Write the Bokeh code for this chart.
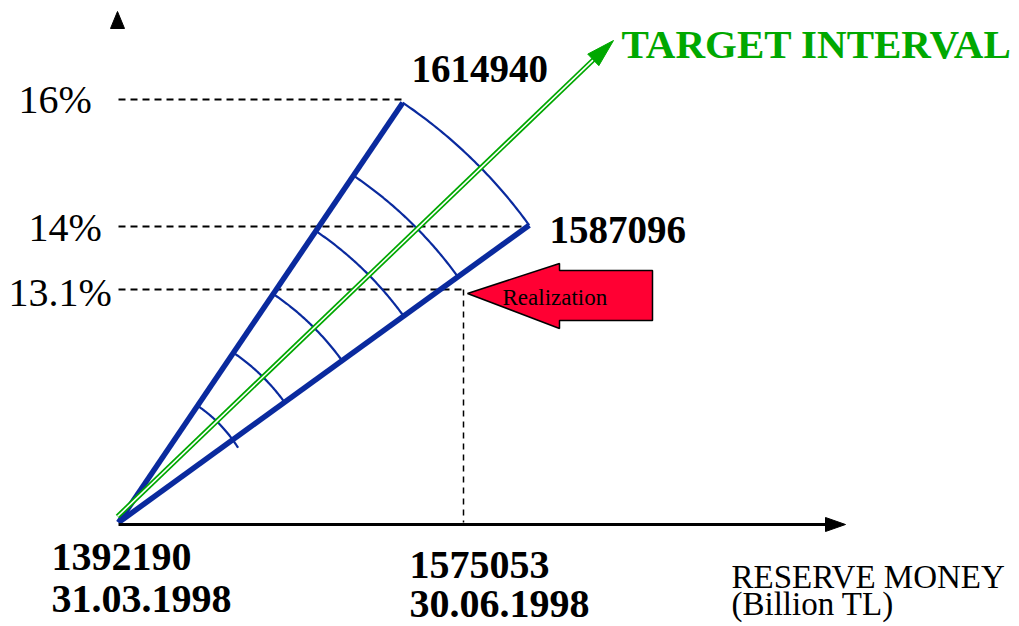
import numpy as np
from bokeh.plotting import figure
from bokeh.models import Range1d
from bokeh.embed import file_html
from bokeh.resources import INLINE
from bokeh.core.properties import value

# ---------------- data ----------------
growth_labels = ["16%", "14%", "13.1%"]
bound_values = ["1614940", "1587096"]          # upper / lower target
base_value = "1392190"
base_date = "31.03.1998"
realized_value = "1575053"
realized_date = "30.06.1998"
title_text = "TARGET INTERVAL"
x_title = ["RESERVE MONEY", "(Billion TL)"]
arrow_text = "Realization"

# ---------------- schematic layout (page pixels) ----------------
ORIGIN = (118, 522)
R_OUT = 507
ANG_UP, ANG_LO = 55.9, 35.9                  # degrees, y-up
ARC_R = [141, 205, 276, 352, 419, 507]
ARC_END = [32.0, 35.9, 35.9, 35.9, 35.9, 35.9]
PCT_Y = [99, 226, 289]
PCT_X_END = [402, 525, 463]
PCT_LABEL_X = [18, 28, 8]
PCT_LABEL_Y = [113, 241, 306]
REAL_X = 463

BLUE = "#0A2A9E"
GREEN = "#00A800"
RED = "#FF0033"
SERIF = value("Liberation Serif")


def pt(r, a):
    t = np.radians(a)
    return ORIGIN[0] + r * np.cos(t), ORIGIN[1] - r * np.sin(t)


def mid(baselines, fs):
    # convert a baseline position into the em-box middle used by text_baseline="middle"
    return [b - 0.34 * fs for b in baselines]


p = figure(width=1019, height=626, x_range=Range1d(0, 1019), y_range=Range1d(626, 0),
           x_axis_location=None, y_axis_location=None, toolbar_location=None,
           output_backend="svg", min_border=0)
p.grid.visible = False
p.outline_line_color = None
p.background_fill_color = "white"

# dashed guide lines
p.segment(x0=[ORIGIN[0]] * 3, y0=PCT_Y, x1=PCT_X_END, y1=PCT_Y,
          line_color="black", line_width=2, line_dash="7 5")
p.segment(x0=[REAL_X], y0=[PCT_Y[2]], x1=[REAL_X], y1=[ORIGIN[1]],
          line_color="black", line_width=1.5, line_dash="6 5")

# arcs
xs, ys = [], []
for r, e in zip(ARC_R, ARC_END):
    a = np.linspace(ANG_UP, e, 60)
    x, y = pt(r, a)
    xs.append(list(x)); ys.append(list(y))
p.multi_line(xs=xs, ys=ys, line_color=BLUE, line_width=2.2)

# bounding blue lines
ux, uy = pt(R_OUT, ANG_UP)
lx, ly = pt(R_OUT, ANG_LO)
p.multi_line(xs=[[ORIGIN[0], ux], [ORIGIN[0], lx]], ys=[[ORIGIN[1], uy], [ORIGIN[1], ly]],
             line_color=BLUE, line_width=5.5)

# green target line (double)
g0 = (117, 516)
gt = (613, 40)
d = np.array([gt[0] - g0[0], gt[1] - g0[1]], dtype=float)
L = np.hypot(*d)
u = d / L
nrm = np.array([-u[1], u[0]])
hl, hw = 28, 8
gb = np.array(gt) - hl * u
p.line([g0[0], gb[0] + 2 * u[0]], [g0[1], gb[1] + 2 * u[1]], line_color=GREEN, line_width=5)
p.line([g0[0], gb[0]], [g0[1], gb[1]], line_color="white", line_width=1.6)
p.patch([gt[0], gb[0] + hw * nrm[0], gb[0] - hw * nrm[0]],
        [gt[1], gb[1] + hw * nrm[1], gb[1] - hw * nrm[1]],
        fill_color=GREEN, line_color=GREEN, line_width=1)

# x axis with arrow
p.line([ORIGIN[0], 828], [524, 524], line_color="black", line_width=3)
p.patch([845, 825, 825], [524, 517, 531], fill_color="black", line_color="black")
# y axis arrowhead
p.patch([117, 110, 124], [11, 28, 28], fill_color="black", line_color="black")

# red realization arrow
p.patch([467, 559, 559, 652, 652, 559, 559],
        [293, 263, 270, 270, 320, 320, 328],
        fill_color=RED, line_color="black", line_width=1.5)
p.text(x=[502], y=mid([305], 23), text=[arrow_text], text_font=SERIF, text_font_size="23px",
       text_color="black", text_baseline="middle")

# percentage labels
p.text(x=PCT_LABEL_X, y=mid(PCT_LABEL_Y, 40), text=growth_labels, text_font=SERIF,
       text_font_size="40px", text_color="black", text_baseline="middle")

# bold value labels
p.text(x=[411, 549], y=mid([82, 243], 39), text=bound_values, text_font=SERIF,
       text_font_size="39px", text_font_style="bold", text_color="black",
       text_baseline="middle")
p.text(x=[51, 51, 409, 409], y=mid([570, 612, 578, 617], 40),
       text=[base_value, base_date, realized_value, realized_date], text_font=SERIF,
       text_font_size="40px", text_font_style="bold", text_color="black",
       text_baseline="middle")

# axis title
p.text(x=[731, 731], y=mid([588, 615], 33), text=x_title, text_font=SERIF,
       text_font_size="33px", text_color="black", text_baseline="middle")

# target title
p.text(x=[621], y=mid([57], 41), text=[title_text], text_font=SERIF, text_font_size="41px",
       text_font_style="bold", text_color=GREEN, text_baseline="middle")

open("out.html", "w").write(file_html(p, INLINE))
